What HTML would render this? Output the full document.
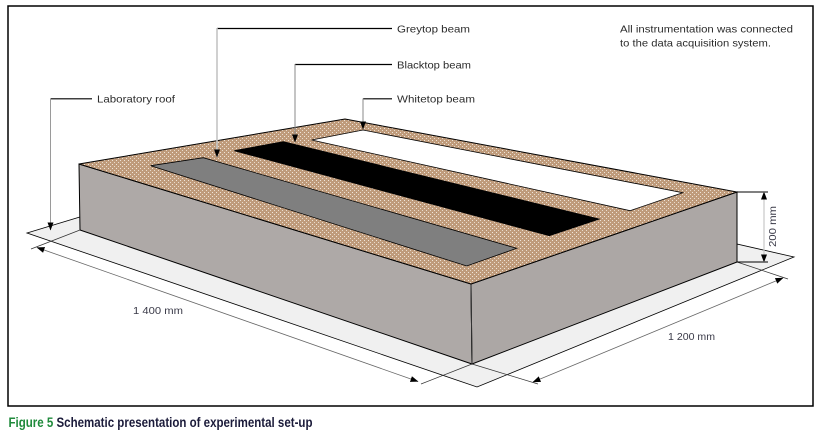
<!DOCTYPE html>
<html><head><meta charset="utf-8"><style>
html,body{margin:0;padding:0;background:#fff;}
svg{display:block;}
text{font-family:"Liberation Sans",Arial,sans-serif;}
</style></head><body>
<svg width="821" height="434" viewBox="0 0 821 434" xmlns="http://www.w3.org/2000/svg">
<defs>
<pattern id="sand" width="4" height="4" patternUnits="userSpaceOnUse">
<rect width="4" height="4" fill="#bf9b7b"/>
<rect x="0" y="0" width="1" height="1" fill="#efe5d9"/>
<rect x="2" y="2" width="1" height="1" fill="#e9dccd"/>
</pattern>
<marker id="ah" markerUnits="userSpaceOnUse" markerWidth="8" markerHeight="6" refX="7.5" refY="3" orient="auto">
<path d="M0,0 L8,3 L0,6 z" fill="#000"/>
</marker>
<marker id="as" markerUnits="userSpaceOnUse" markerWidth="8" markerHeight="6" refX="0.5" refY="3" orient="auto">
<path d="M8,0 L0,3 L8,6 z" fill="#000"/>
</marker>
</defs>
<rect x="0" y="0" width="821" height="434" fill="#fff"/>
<rect x="8" y="6" width="805" height="400" fill="#fff" stroke="#000" stroke-width="1.5"/>

<!-- floor slab -->
<polygon points="27,233 311,147 794,257 477,387" fill="#f0f0f0" stroke="#000" stroke-width="0.8"/>

<!-- box faces -->
<polygon points="79,164 471,284 472,364 80,230" fill="#aea9a7" stroke="#000" stroke-width="1"/>
<polygon points="471,284 737,192 737,262 472,364" fill="#aca7a5" stroke="#000" stroke-width="1"/>
<line x1="471" y1="284" x2="472" y2="364" stroke="#333" stroke-width="1"/>

<!-- top face -->
<polygon points="79,164 345,119 737,192 471,284" fill="url(#sand)" stroke="#000" stroke-width="1"/>
<!-- beams -->
<polygon points="150.7,165.7 203.3,157.7 516.7,248.3 466.7,266" fill="#7f7f7f" stroke="#000" stroke-width="0.8"/>
<polygon points="234.3,150.7 283.3,141.7 599.3,219 549.3,235.7" fill="#000" stroke="#000" stroke-width="0.8"/>
<polygon points="311.7,140 363,130 682.7,192.7 630,210.7" fill="#fff" stroke="#000" stroke-width="0.8"/>

<!-- leaders -->
<line x1="217" y1="28.5" x2="392" y2="28.5" stroke="#000" stroke-width="1.2"/>
<line x1="217" y1="28" x2="217" y2="157" stroke="#c4c4c4" stroke-width="1.6" marker-end="url(#ah)"/>
<line x1="295" y1="64.5" x2="392" y2="64.5" stroke="#000" stroke-width="1.2"/>
<line x1="295" y1="64" x2="295" y2="142" stroke="#8a8a8a" stroke-width="1" marker-end="url(#ah)"/>
<line x1="363" y1="98.8" x2="392" y2="98.8" stroke="#000" stroke-width="1.2"/>
<line x1="363" y1="98.5" x2="363" y2="129" stroke="#8a8a8a" stroke-width="1" marker-end="url(#ah)"/>
<line x1="50.5" y1="98.8" x2="92" y2="98.8" stroke="#000" stroke-width="1.2"/>
<line x1="50.5" y1="98.5" x2="50.5" y2="230" stroke="#9a9a9a" stroke-width="1" marker-end="url(#ah)"/>

<!-- extension lines -->
<line x1="80" y1="230" x2="31" y2="249" stroke="#333" stroke-width="0.7"/>
<line x1="472" y1="364" x2="421" y2="384" stroke="#333" stroke-width="0.7"/>
<line x1="472" y1="364" x2="538" y2="384" stroke="#333" stroke-width="0.7"/>
<line x1="737" y1="262" x2="788" y2="279" stroke="#333" stroke-width="0.7"/>
<line x1="737" y1="192" x2="768" y2="192" stroke="#000" stroke-width="1"/>
<line x1="737" y1="262" x2="768" y2="262" stroke="#000" stroke-width="1"/>

<!-- dimension lines -->
<line x1="37" y1="247.5" x2="418" y2="381.5" stroke="#666" stroke-width="0.8" marker-start="url(#as)" marker-end="url(#ah)"/>
<line x1="533" y1="382" x2="783" y2="278" stroke="#666" stroke-width="0.8" marker-start="url(#as)" marker-end="url(#ah)"/>
<line x1="764" y1="192" x2="764" y2="262" stroke="#c8c8c8" stroke-width="1.2" marker-start="url(#as)" marker-end="url(#ah)"/>

<!-- labels -->
<g font-size="10.5" fill="#2b2b2b">
<text x="397" y="32.5" textLength="73" lengthAdjust="spacingAndGlyphs">Greytop beam</text>
<text x="397" y="68.5" textLength="74" lengthAdjust="spacingAndGlyphs">Blacktop beam</text>
<text x="397" y="102.5" textLength="78" lengthAdjust="spacingAndGlyphs">Whitetop beam</text>
<text x="97" y="102.5" textLength="78" lengthAdjust="spacingAndGlyphs">Laboratory roof</text>
<text x="620" y="32.5" textLength="173" lengthAdjust="spacingAndGlyphs">All instrumentation was connected</text>
<text x="620" y="46.5" textLength="151" lengthAdjust="spacingAndGlyphs">to the data acquisition system.</text>
<text x="133" y="314" textLength="50" lengthAdjust="spacingAndGlyphs" fill="#3a3a48">1 400 mm</text>
<text x="668" y="340" textLength="47" lengthAdjust="spacingAndGlyphs" fill="#3a3a48">1 200 mm</text>
<text transform="translate(776,247) rotate(-90)" x="0" y="0" textLength="41" lengthAdjust="spacingAndGlyphs" fill="#3a3a48">200 mm</text>
</g>

<!-- caption -->
<text x="8.5" y="427" font-size="13.5" font-weight="bold" textLength="304" lengthAdjust="spacingAndGlyphs"><tspan fill="#1f8a3b">Figure 5</tspan><tspan fill="#1b1b3a"> Schematic presentation of experimental set-up</tspan></text>
</svg>
</body></html>
